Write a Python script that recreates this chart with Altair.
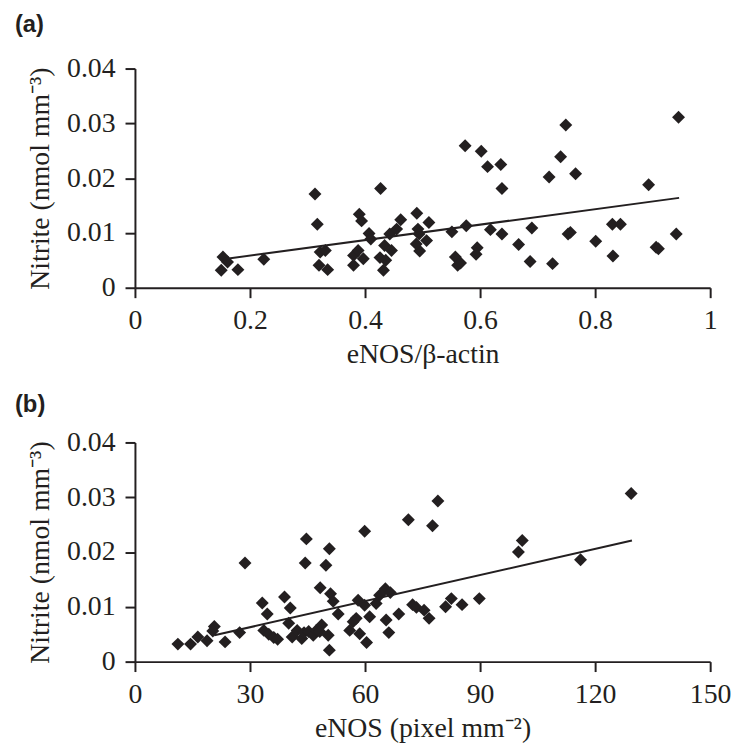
import altair as alt
import pandas as pd

# ---- panel (a): eNOS/beta-actin vs nitrite ----
a_x = [0.153, 0.150, 0.161, 0.179, 0.224, 0.313, 0.317, 0.322, 0.331, 0.320,
       0.335, 0.427, 0.390, 0.394, 0.407, 0.410, 0.380, 0.388, 0.397, 0.380,
       0.426, 0.434, 0.446, 0.432, 0.436, 0.443, 0.455, 0.462, 0.490, 0.492,
       0.494, 0.511, 0.507, 0.495, 0.489, 0.551, 0.576, 0.557, 0.561, 0.566,
       0.595, 0.593, 0.574, 0.602, 0.613, 0.636, 0.638, 0.618, 0.638, 0.667,
       0.690, 0.687, 0.726, 0.720, 0.740, 0.749, 0.766, 0.753, 0.757, 0.801,
       0.830, 0.844, 0.831, 0.893, 0.906, 0.910, 0.941, 0.945]
a_y = [0.0056, 0.0032, 0.0047, 0.0033, 0.0052, 0.0171, 0.0116, 0.0065, 0.0068, 0.0041,
       0.0033, 0.0181, 0.0134, 0.0122, 0.0099, 0.0089, 0.0059, 0.0068, 0.0053, 0.0041,
       0.0055, 0.0077, 0.0068, 0.0032, 0.0050, 0.0098, 0.0107, 0.0124, 0.0136, 0.0107,
       0.0098, 0.0119, 0.0086, 0.0067, 0.0080, 0.0102, 0.0113, 0.0056, 0.0041, 0.0045,
       0.0073, 0.0061, 0.0259, 0.0249, 0.0221, 0.0225, 0.0181, 0.0106, 0.0098, 0.0079,
       0.0109, 0.0048, 0.0044, 0.0202, 0.0239, 0.0297, 0.0208, 0.0098, 0.0101, 0.0085,
       0.0116, 0.0116, 0.0058, 0.0188, 0.0074, 0.0071, 0.0098, 0.0311]
a_fit_x = [0.153, 0.946]
a_fit_y = [0.0052, 0.0164]

# ---- panel (b): eNOS (pixel/mm2) vs nitrite ----
b_x = [11.2, 14.5, 16.4, 18.8, 20.7, 20.3, 23.5, 27.3, 28.7, 33.2,
       34.5, 33.6, 34.9, 36.2, 37.2, 39.0, 40.5, 40.1, 41.0, 42.3,
       43.5, 44.1, 45.3, 46.5, 47.3, 48.7, 48.2, 50.4, 50.7, 44.7,
       44.4, 50.7, 49.8, 48.3, 51.0, 51.7, 53.0, 56.0, 56.9, 57.7,
       58.6, 60.4, 59.9, 58.2, 59.9, 61.2, 62.9, 63.8, 65.3, 66.6,
       65.5, 66.2, 68.8, 71.3, 72.4, 73.4, 75.4, 76.7, 77.6, 79.0,
       81.0, 82.5, 85.3, 89.8, 100.0, 101.0, 116.2, 129.4]
b_y = [0.0032, 0.0032, 0.0045, 0.0038, 0.0064, 0.0056, 0.0036, 0.0053, 0.0180, 0.0107,
       0.0087, 0.0057, 0.0050, 0.0044, 0.0041, 0.0118, 0.0098, 0.0070, 0.0045, 0.0057,
       0.0042, 0.0053, 0.0055, 0.0048, 0.0057, 0.0067, 0.0055, 0.0048, 0.0021, 0.0224,
       0.0180, 0.0206, 0.0176, 0.0135, 0.0124, 0.0110, 0.0087, 0.0057, 0.0073, 0.0079,
       0.0051, 0.0035, 0.0238, 0.0112, 0.0103, 0.0082, 0.0106, 0.0121, 0.0133, 0.0126,
       0.0076, 0.0053, 0.0087, 0.0259, 0.0104, 0.0099, 0.0094, 0.0079, 0.0248, 0.0293,
       0.0100, 0.0115, 0.0104, 0.0115, 0.0200, 0.0221, 0.0186, 0.0307]
b_fit_x = [20.7, 129.6]
b_fit_y = [0.0048, 0.0221]

y_ticks = [0, 0.01, 0.02, 0.03, 0.04]
a_ticks = [0, 0.2, 0.4, 0.6, 0.8, 1]
b_ticks = [0, 30, 60, 90, 120, 150]

INK = "#231f20"
SERIF = "Liberation Serif"
Y_TITLE = "Nitrite (nmol mm\u207b\u00b3)"


def panel(xs, ys, fx, fy, xdomain, xticks, xfmt, xtitle, label, title_offset):
    pts = pd.DataFrame({"x": xs, "y": ys})
    fit = pd.DataFrame({"x": fx, "y": fy})
    xscale = alt.Scale(domain=xdomain, nice=False, zero=False)
    yscale = alt.Scale(domain=[0, 0.04], nice=False)
    xenc = alt.X("x:Q", scale=xscale,
                 axis=alt.Axis(values=xticks, format=xfmt, title=xtitle))
    yenc = alt.Y("y:Q", scale=yscale,
                 axis=alt.Axis(values=y_ticks, format=".2~f", title=Y_TITLE))
    pts_layer = alt.Chart(pts).mark_point(
        shape="diamond", filled=True, size=170, color=INK, opacity=1
    ).encode(x=xenc, y=yenc)
    fit_layer = alt.Chart(fit).mark_line(color=INK, strokeWidth=2).encode(
        x=alt.X("x:Q", scale=xscale), y=alt.Y("y:Q", scale=yscale)
    )
    return alt.layer(pts_layer, fit_layer).properties(
        width=580,
        height=221,
        title=alt.TitleParams(
            text=label, anchor="start", frame="bounds",
            font="Liberation Sans", fontWeight="bold", fontSize=24,
            color=INK, dx=-12, offset=title_offset,
        ),
    )


pa = panel(a_x, a_y, a_fit_x, a_fit_y, [0, 1], a_ticks, "~g",
           "eNOS/\u03b2-actin", "(a)", 17.5)
pb = panel(b_x, b_y, b_fit_x, b_fit_y, [0, 150], b_ticks, "d",
           "eNOS (pixel mm\u207b\u00b2)", "(b)", 12)

chart = alt.vconcat(pa, pb, spacing=25).properties(
    padding={"left": 7, "top": 2, "right": 0, "bottom": 0},
    background="white",
).configure_view(strokeWidth=0).configure_axis(
    domainColor=INK, domainWidth=2, tickColor=INK, tickWidth=2, tickSize=10,
    labelFont=SERIF, labelFontSize=28, labelColor=INK,
    titleFont=SERIF, titleFontSize=28, titleFontWeight="normal", titleColor=INK,
    grid=False, labelFlush=False,
).configure_axisY(labelPadding=10, titlePadding=12).configure_axisX(
    labelPadding=9, titlePadding=6
)

chart.save("out.html", embed_options={"renderer": "svg", "actions": False})
